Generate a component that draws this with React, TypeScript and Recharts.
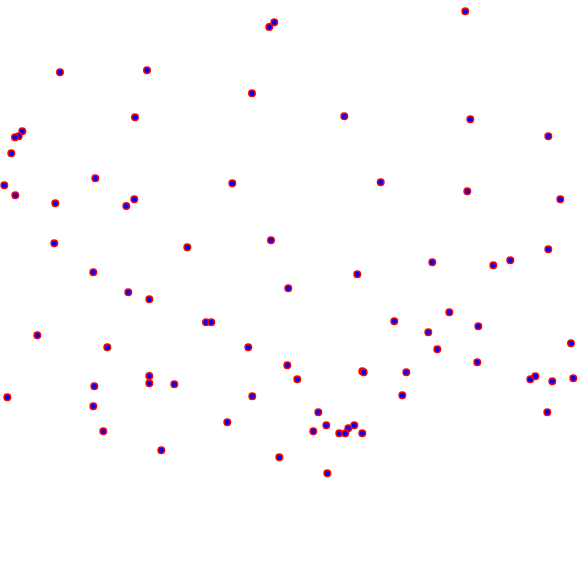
import { ScatterChart, Scatter, XAxis, YAxis } from "recharts";

// point positions (x right, y down)
const xs = [
  60, 147, 135, 22.3, 18.7, 15, 11.3, 4.3, 15.3, 95.3, 55.3, 134.3, 126.3, 54.3, 187.3,
  274.3, 269.3, 252, 344.3, 232.3, 380.7, 271,
  465.3, 470.3, 548.3, 467.3, 560.3, 548.3,
  93.3, 128.3, 149.3, 37.3, 107.3, 149.3, 149.3, 174.3, 94.3, 7.3, 93.3, 103.3, 161.3,
  357.3, 288.3, 206, 211.3, 248.3, 287.3, 362.3, 363.7, 297.3, 252.3, 318.3, 227.3, 326.3,
  354.3, 348.3, 313.3, 339.3, 345.3, 362.3, 279.3, 327.3,
  432.3, 493.3, 510.3, 449.3, 394.3, 428.3, 478.3, 437.3, 477.3, 571, 406.3, 402.3, 530.3,
  535.3, 552.3, 573.3, 547.3,
];
const ys = [
  72.3, 70.3, 117.3, 131.3, 136.3, 137.3, 153.3, 185.3, 195.3, 178.3, 203.3, 199.3, 206, 243.3, 247.3,
  22.3, 27, 93.3, 116.3, 183.3, 182.3, 240.3,
  11.3, 119.3, 136.3, 191.3, 199.3, 249.3,
  272.3, 292.3, 299.3, 335.3, 347.3, 376, 383.3, 384.3, 386.3, 397.3, 406.3, 431.3, 450.3,
  274.3, 288.3, 322.3, 322.3, 347.3, 365.3, 371.3, 372.3, 379.3, 396.3, 412.3, 422.3, 425.3,
  425.3, 428.3, 431.3, 433.3, 433.3, 433.3, 457.3, 473.3,
  262.3, 265.3, 260.3, 312.3, 321.3, 332.3, 326.3, 349.3, 362.3, 343.3, 372.3, 395.3, 379.3,
  376.3, 381.3, 378.3, 412.3,
];

const points = xs.map((x, i) => ({ x, y: ys[i] }));

const Dot = (props: any) => {
  const { cx, cy } = props;
  return <circle cx={cx} cy={cy} r={3.25} fill="#0000ff" stroke="#ff0000" strokeWidth={1.5} />;
};

export default function App() {
  return (
    <div style={{ position: "fixed", left: 0, top: 0, width: 580, height: 580, background: "#fff" }}>
      <ScatterChart width={580} height={580} margin={{ top: 0, right: 0, bottom: 0, left: 0 }}>
        <XAxis type="number" dataKey="x" domain={[0, 580]} hide />
        <YAxis type="number" dataKey="y" domain={[0, 580]} reversed hide />
        <Scatter data={points} shape={Dot} isAnimationActive={false} />
      </ScatterChart>
    </div>
  );
}
